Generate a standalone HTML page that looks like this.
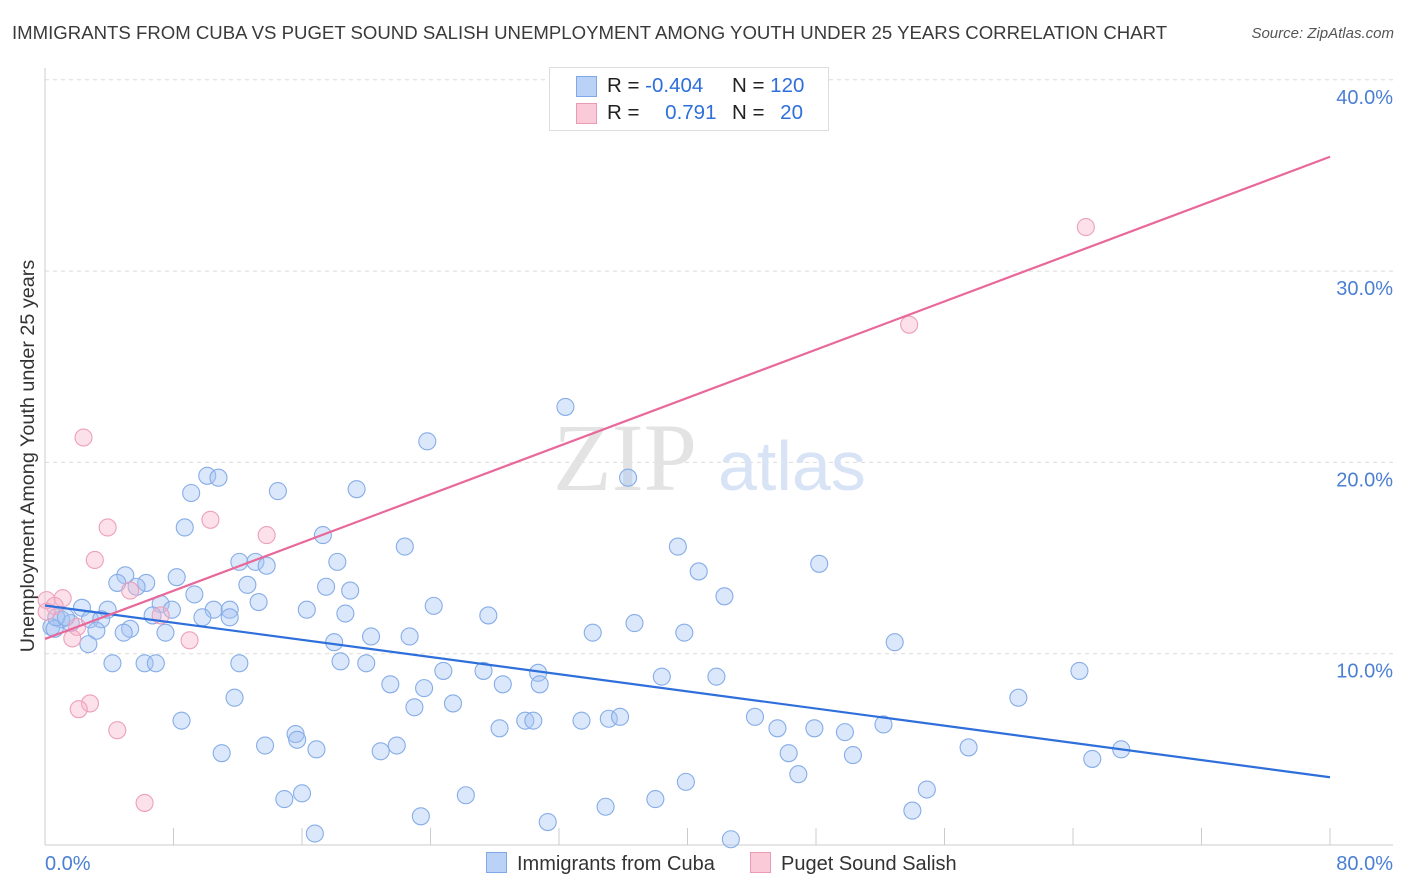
<!DOCTYPE html>
<html><head><meta charset="utf-8"><style>
body{margin:0;background:#fff;font-family:"Liberation Sans",sans-serif;}
#wrap{position:relative;width:1406px;height:892px;overflow:hidden;}
.t{position:absolute;white-space:nowrap;}
</style></head><body>
<div id="wrap">
<div class="t" style="left:12px;top:22px;font-size:18.6px;color:#3a3a3a;">IMMIGRANTS FROM CUBA VS PUGET SOUND SALISH UNEMPLOYMENT AMONG YOUTH UNDER 25 YEARS CORRELATION CHART</div>
<div class="t" style="right:12px;top:25px;font-size:15px;color:#555;font-style:italic;">Source: ZipAtlas.com</div>
<svg id="svg" width="1406" height="892" style="position:absolute;left:0;top:0"></svg>
</div>
<script>
const xTicksPct=[0,8,16,24,32,40,48,56,64,72,80];
const yTicksPct=[10,20,30,40];
const yTickLabels=["10.0%","20.0%","30.0%","40.0%"];
const xEndLabels=["0.0%","80.0%"];
const cubaX=[32.4,23.8,36.3,10.1,10.8,9.1,14.5,19.4,8.7,17.3,22.4,39.4,12.1,13.1,13.8,18.2,48.2,40.7,5.0,4.5,6.3,5.7,8.2,12.6,17.5,19.0,9.3,42.3,7.2,7.9,13.3,24.2,2.3,3.9,10.5,11.5,16.3,18.7,27.6,6.7,9.8,11.5,2.8,3.5,1.0,1.6,0.4,3.2,5.3,4.9,7.5,0.6,36.7,34.1,39.8,20.3,22.7,2.7,18.0,52.9,4.2,6.2,6.9,12.1,18.4,20.0,24.8,27.3,30.7,38.4,41.8,64.4,21.5,23.6,28.5,30.8,11.8,60.6,25.4,23.0,8.5,29.9,30.4,33.4,35.1,35.8,44.2,28.3,45.6,47.9,52.2,49.8,15.6,15.7,13.7,16.9,11.0,20.9,21.9,46.3,50.3,57.5,67.0,65.2,46.9,39.9,54.9,16.0,14.9,26.2,38.0,34.9,54.0,23.4,31.3,16.8,42.7,0.7,1.3];
const cubaY=[22.9,21.1,19.2,19.3,19.2,18.4,18.5,18.6,16.6,16.2,15.6,15.6,14.8,14.8,14.6,14.8,14.7,14.3,14.1,13.7,13.7,13.5,14.0,13.6,13.5,13.3,13.1,13.0,12.6,12.3,12.7,12.5,12.4,12.3,12.3,12.3,12.3,12.1,12.0,12.0,11.9,11.9,11.8,11.8,11.8,11.6,11.4,11.2,11.3,11.1,11.1,11.3,11.6,11.1,11.1,10.9,10.9,10.5,10.6,10.6,9.5,9.5,9.5,9.5,9.6,9.5,9.1,9.1,9.0,8.8,8.8,9.1,8.4,8.2,8.4,8.4,7.7,7.7,7.4,7.2,6.5,6.5,6.5,6.5,6.6,6.7,6.7,6.1,6.1,6.1,6.3,5.9,5.8,5.5,5.2,5.0,4.8,4.9,5.2,4.8,4.7,5.1,5.0,4.5,3.7,3.3,2.9,2.7,2.4,2.6,2.4,2.0,1.8,1.5,1.2,0.6,0.3,11.9,11.9];
const salishX=[2.4,64.8,53.8,3.9,10.3,13.8,3.1,5.3,0.1,1.1,0.6,7.2,2.0,1.7,9.0,2.8,2.1,4.5,6.2,0.1];
const salishY=[21.3,32.3,27.2,16.6,17.0,16.2,14.9,13.3,12.8,12.9,12.5,12.0,11.4,10.8,10.7,7.4,7.1,6.0,2.2,12.2];

const NS="http://www.w3.org/2000/svg";
const svg=document.getElementById('svg');
const X0=45,X1=1330,Y0=845,PXY=19.13;
const sx=v=>X0+(X1-X0)*v/80;
const sy=v=>Y0-v*PXY;
function mk(tag,attrs,parent){const e=document.createElementNS(NS,tag);for(const k in attrs)e.setAttribute(k,attrs[k]);(parent||svg).appendChild(e);return e;}

yTicksPct.forEach((v,i)=>{
  const g=mk('line',{x1:X0,x2:1393,y1:sy(v),y2:sy(v),stroke:'#dcdcdc','stroke-dasharray':'4,4'});
  
  
  const t=mk('text',{x:1393,y:sy(v)+24,'text-anchor':'end','font-size':20,fill:'#4a7fd4','font-family':'Liberation Sans, sans-serif'});
  t.textContent=yTickLabels[i];
  
  
});
const ax=mk('line',{x1:X0,x2:1393,y1:Y0,y2:Y0,stroke:'#ccc'});


const ay=mk('line',{x1:X0,x2:X0,y1:68,y2:Y0,stroke:'#ccc'});


xTicksPct.forEach(v=>{
  const tk=mk('line',{x1:sx(v),x2:sx(v),y1:Y0,y2:Y0-17,stroke:'#ccc'});
  
  
});
const xl0=mk('text',{x:45,y:870,'font-size':20,fill:'#4a7fd4','font-family':'Liberation Sans, sans-serif'});
xl0.textContent=xEndLabels[0];


const xl1=mk('text',{x:1393,y:870,'text-anchor':'end','font-size':20,fill:'#4a7fd4','font-family':'Liberation Sans, sans-serif'});
xl1.textContent=xEndLabels[1];


const yt=mk('text',{x:0,y:0,transform:'translate(34,456) rotate(-90)','text-anchor':'middle','font-size':19.8,fill:'#333','font-family':'Liberation Sans, sans-serif'});
yt.textContent='Unemployment Among Youth under 25 years';


const wm=mk('text',{x:553,y:490,'font-size':96,fill:'#e3e3e3','font-family':'Liberation Serif, serif'});
wm.textContent='ZIP';


const wm2=mk('text',{x:718,y:490,'font-size':70,fill:'#d8e4f6','font-family':'Liberation Sans, sans-serif'});
wm2.textContent='atlas';



function pts(xs,ys,fill,stroke,name){
  xs.forEach((x,i)=>{
    const c=mk('circle',{cx:sx(x),cy:sy(ys[i]),r:8.5,fill:fill,stroke:stroke,'stroke-width':1.1});
    
    
  });
}
function fit(xs,ys){const n=xs.length;let mx=0,my=0;xs.forEach((x,i)=>{mx+=x;my+=ys[i]});mx/=n;my/=n;let a=0,b=0;xs.forEach((x,i)=>{a+=(x-mx)*(ys[i]-my);b+=(x-mx)*(x-mx)});const s=a/b;return [my-s*mx,s];}
pts(cubaX,cubaY,'rgba(165,196,242,0.4)','#86ade8','point-cuba');
pts(salishX,salishY,'rgba(247,180,202,0.4)','#eda0bb','point-salish');
[[cubaX,cubaY,'#2e6fdb','trend-line-cuba'],[salishX,salishY,'#e8689a','trend-line-salish']].forEach(([xs,ys,col,nm])=>{
  const [b,s]=fit(xs,ys);
  const l=mk('line',{x1:sx(0),y1:sy(b),x2:sx(80),y2:sy(b+s*80),stroke:col,'stroke-width':2.2});
  
  
});
</script>
<div class="t" style="left:549px;top:67px;width:278px;height:62px;border:1px solid #ddd;background:#fff;font-size:20.5px;color:#222;">
  <div style="position:absolute;left:26px;top:8px;width:19px;height:19px;background:#b9d2f5;border:1px solid #7ea8e6;"></div>
  <div style="position:absolute;left:57px;top:6px;">R = <span style="color:#2e6fdb">-0.404</span></div>
  <div style="position:absolute;left:182px;top:6px;">N = <span style="color:#2e6fdb">120</span></div>
  <div style="position:absolute;left:26px;top:35px;width:19px;height:19px;background:#fbcad9;border:1px solid #eb9ab6;"></div>
  <div style="position:absolute;left:57px;top:33px;">R = <span style="color:#2e6fdb;margin-left:20px">0.791</span></div>
  <div style="position:absolute;left:182px;top:33px;">N = <span style="color:#2e6fdb;margin-left:10px">20</span></div>
</div>
<div class="t" style="left:486px;top:852px;font-size:20px;color:#333;"><span style="display:inline-block;width:19px;height:19px;background:#b9d2f5;border:1px solid #7ea8e6;vertical-align:-3px;margin-right:10px"></span>Immigrants from Cuba</div>
<div class="t" style="left:750px;top:852px;font-size:20px;color:#333;"><span style="display:inline-block;width:19px;height:19px;background:#fbcad9;border:1px solid #eb9ab6;vertical-align:-3px;margin-right:10px"></span>Puget Sound Salish</div>
</body></html>
